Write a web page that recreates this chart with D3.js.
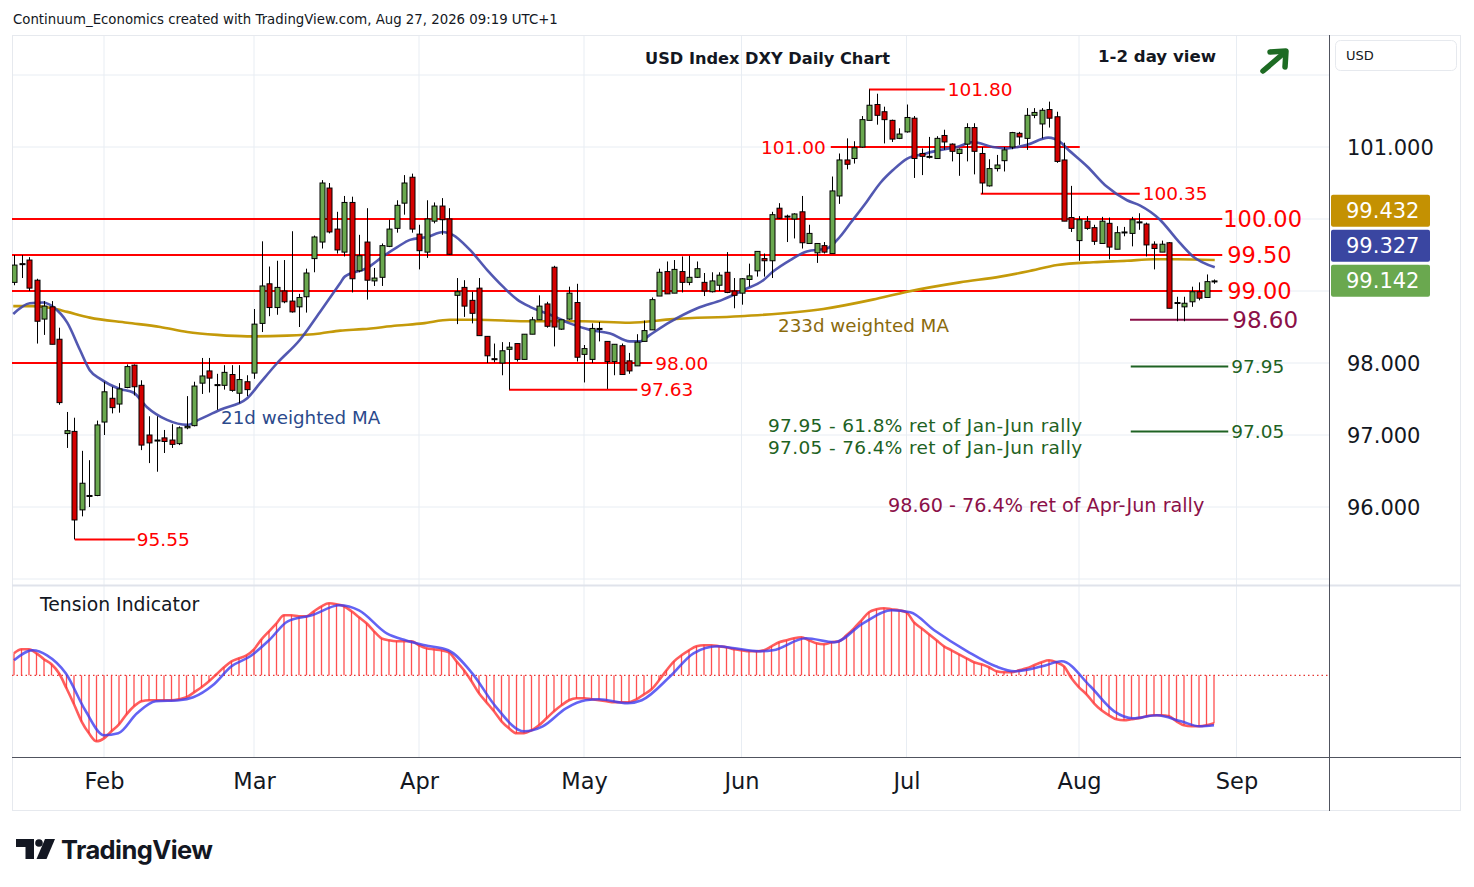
<!DOCTYPE html>
<html><head><meta charset="utf-8">
<script src="https://cdn.jsdelivr.net/npm/d3@7"></script>
<style>
body{margin:0;background:#fff;}
svg{display:block;font-family:"DejaVu Sans",sans-serif;}
</style>
</head><body>
<svg id="c" width="1474" height="887"></svg>
<script>
// ---------- DATA ----------
const opens=[99.12,99.38,99.43,99.15,98.61,98.78,98.33,97.02,97.05,95.96,
96.15,96.16,97.18,97.51,97.43,97.66,97.97,97.69,97.00,96.92,
96.96,96.93,96.88,97.10,97.13,97.72,97.89,97.69,97.69,97.84,
97.58,97.74,97.86,98.55,99.10,98.77,99.00,98.86,98.78,98.92,
99.45,99.68,100.43,99.86,99.54,100.23,99.28,99.68,99.14,99.19,
99.62,99.87,100.22,100.58,99.79,99.54,99.97,100.18,100.00,98.94,
99.05,98.87,99.04,98.37,98.06,98.00,98.19,98.27,98.05,98.40,
98.60,98.82,99.33,98.47,98.61,98.84,98.12,98.05,98.47,98.30,
98.02,98.24,98.03,97.96,98.30,98.46,98.93,99.27,98.97,99.27,
99.12,99.19,99.12,98.99,99.08,99.26,99.00,98.97,99.16,99.28,
99.45,99.42,100.15,100.04,100.00,100.10,99.66,99.53,99.63,99.52,
100.32,100.82,100.84,101.00,101.37,101.59,101.49,101.37,101.12,101.21,
101.40,100.91,100.86,100.84,101.16,101.04,100.91,101.04,101.27,100.91,
100.46,100.70,100.81,101.00,101.19,101.12,101.44,101.32,101.52,101.42,
100.82,100.02,99.70,99.97,99.88,99.66,99.94,99.58,99.81,99.80,
99.96,99.93,99.65,99.54,99.67,98.84,98.78,98.85,98.99,98.91,
99.13];
const highs=[99.50,99.50,99.47,99.17,98.86,98.86,98.49,97.32,97.24,96.78,
96.65,97.20,97.74,97.67,97.72,97.98,97.98,97.76,97.26,97.26,
97.07,97.15,97.12,97.54,97.74,98.07,98.07,97.85,97.97,97.97,
97.97,97.83,98.75,99.69,99.34,99.42,99.43,99.83,98.96,99.31,
99.77,100.54,100.50,100.10,100.32,100.31,99.78,100.15,99.32,99.66,
99.99,100.26,100.61,100.63,99.92,100.26,100.23,100.29,100.15,99.18,
99.15,98.99,99.18,98.37,98.27,98.29,98.29,98.27,98.40,98.64,
98.94,98.85,99.35,98.60,99.06,99.10,98.25,98.55,98.57,98.30,
98.26,98.27,98.14,98.40,98.59,98.91,99.31,99.41,99.43,99.48,
99.49,99.41,99.25,99.26,99.26,99.54,99.18,99.18,99.38,99.55,
99.52,100.10,100.22,100.06,100.08,100.32,99.92,99.66,99.68,100.59,
100.91,101.12,101.08,101.43,101.80,101.74,101.56,101.38,101.26,101.59,
101.43,100.98,101.14,101.15,101.24,101.05,100.98,101.33,101.33,101.00,
100.83,100.89,101.00,101.21,101.21,101.54,101.54,101.54,101.63,101.49,
101.06,100.46,100.04,100.04,99.92,100.03,100.02,99.90,99.89,100.03,
100.08,99.95,99.69,99.70,99.68,98.92,98.92,99.06,99.12,99.23,
99.16];
const lows=[99.08,99.18,99.00,98.27,98.39,98.26,97.42,96.82,95.55,95.87,
96.00,96.15,97.00,97.30,97.31,97.65,97.55,96.79,96.61,96.49,
96.75,96.82,96.86,97.08,97.12,97.57,97.59,97.35,97.63,97.60,
97.44,97.54,97.78,98.43,98.65,98.67,98.83,98.70,98.50,98.70,
99.26,99.59,99.80,99.52,99.48,98.98,99.26,98.88,99.07,99.07,
99.61,99.81,100.06,99.81,99.30,99.46,99.94,99.78,99.50,98.54,
98.64,98.55,98.38,98.00,98.01,97.83,97.63,98.02,98.05,98.40,
98.60,98.49,98.23,98.46,98.60,98.02,97.73,98.00,98.30,97.64,
97.83,97.84,97.85,97.96,98.30,98.46,98.93,98.96,98.97,98.98,
99.08,99.18,98.93,98.98,99.00,98.97,98.76,98.81,99.06,99.20,
99.20,99.18,100.00,99.68,99.73,99.59,99.66,99.39,99.52,99.52,
100.21,100.69,100.77,100.99,101.37,101.31,101.05,101.07,101.11,101.20,
100.57,100.61,100.84,100.84,100.96,100.80,100.60,100.80,100.62,100.35,
100.45,100.66,100.66,100.97,101.03,100.96,101.40,101.12,101.27,100.78,
99.97,99.82,99.42,99.85,99.64,99.66,99.44,99.58,99.76,99.62,
99.85,99.48,99.30,99.54,98.76,98.58,98.58,98.78,98.87,98.91,
99.10];
const closes=[99.36,99.37,99.04,98.58,98.79,98.26,97.45,97.06,95.82,96.33,
96.16,97.14,97.60,97.38,97.64,97.95,97.67,96.86,96.89,96.93,
96.91,96.87,97.10,97.12,97.68,97.82,97.79,97.70,97.87,97.62,
97.77,97.63,98.54,99.07,98.77,99.05,98.85,98.71,98.91,99.25,
99.75,100.50,99.82,99.57,100.23,99.17,99.49,99.15,99.18,99.63,
99.86,100.19,100.50,99.86,99.56,100.00,100.18,99.99,99.51,98.99,
98.79,98.69,98.38,98.10,98.05,98.17,98.22,98.05,98.40,98.60,
98.79,98.51,98.50,98.60,98.97,98.08,98.20,98.48,98.48,98.02,
98.26,97.84,97.89,98.29,98.45,98.88,99.26,98.96,99.30,99.12,
99.19,99.31,99.00,99.14,99.22,98.98,98.94,99.17,99.21,99.55,
99.42,100.06,100.01,100.03,100.07,99.67,99.80,99.66,99.54,100.39,
100.82,100.76,100.99,101.38,101.58,101.44,101.38,101.11,101.18,101.41,
100.84,100.87,100.87,101.12,101.07,100.94,100.97,101.27,100.94,100.50,
100.70,100.75,100.96,101.20,101.14,101.44,101.48,101.51,101.40,100.80,
99.97,99.87,99.99,99.87,99.69,99.97,99.61,99.81,99.82,99.99,
99.95,99.64,99.59,99.65,98.76,98.84,98.83,98.99,98.90,99.13,
99.14];

const monthLabels=["Feb","Mar","Apr","May","Jun","Jul","Aug","Sep"];
const monthIdx=[12,32,54,76,97,119,142,163];
const priceTicks=[96,97,98,101];
const gridPrices=[95,96,97,98,99,100,101,102];

const wma21Idx=[-0.1,2.1,3.9,5.2,7.1,8.8,10.1,11.5,14.1,15.9,17.7,20.4,23.1,24.8,27.5,31.1,32.8,35.1,38.1,40.8,43.5,44.1,47.1,49.2,51.1,52.8,55.1,57.2,58.5,60.8,63.1,65.2,67.1,68.8,71.5,74.1,76.8,79.5,82.1,83.5,84.8,87.5,91.1,94.5,97.2,99.9,101.2,103.5,105.7,108.4,110.1,111.5,113.7,115.5,117.2,119.1,121.2,123.5,125.7,127.9,130.5,132.4,135.1,137.9,139.5,140.4,143.1,145.7,148.4,150.1,152.8,155.1,157.2,160.1];
const wma21Val=[98.68,98.83,98.84,98.78,98.56,98.18,97.90,97.78,97.64,97.59,97.39,97.21,97.14,97.22,97.35,97.51,97.72,98.00,98.32,98.71,99.11,99.20,99.32,99.48,99.61,99.71,99.75,99.82,99.78,99.57,99.29,99.06,98.88,98.78,98.67,98.55,98.46,98.41,98.30,98.30,98.39,98.57,98.76,98.88,99.01,99.15,99.27,99.43,99.55,99.59,99.75,99.94,100.24,100.50,100.68,100.84,100.90,100.96,101.00,101.07,101.00,100.98,101.03,101.13,101.07,100.98,100.73,100.45,100.26,100.19,99.99,99.71,99.48,99.33];

const wma233Idx=[-0.1,2.5,5.2,7.1,10.1,15.1,19.5,23.1,27.1,31.1,36.4,40.8,43.5,46.5,51.1,54.5,58.1,61.7,68.8,75.9,82.1,87.9,96.8,107.9,114.5,119.1,126.1,131.5,135.1,139.1,143.9,148.4,151.9,155.1,160.1];
const wma233Val=[98.79,98.79,98.76,98.71,98.63,98.56,98.50,98.43,98.39,98.37,98.38,98.41,98.45,98.47,98.52,98.55,98.60,98.60,98.58,98.58,98.56,98.61,98.65,98.75,98.88,98.99,99.12,99.20,99.27,99.36,99.40,99.42,99.44,99.44,99.43];

const tension=[2.2,2.6,2.6,2.2,1.6,1.1,0.2,-1.3,-2.9,-4.6,
-5.8,-6.6,-6.3,-5.6,-4.9,-3.9,-3.1,-2.6,-2.5,-2.5,
-2.5,-2.5,-2.4,-2.2,-1.7,-1.2,-0.6,0.1,0.8,1.4,
1.7,2.0,2.6,3.6,4.4,5.2,6.0,6.0,5.9,5.9,
6.4,6.9,7.2,7.1,6.9,6.4,5.8,5.2,4.4,3.7,
3.5,3.4,3.4,3.4,3.0,2.7,2.6,2.5,2.3,1.4,
0.5,-0.6,-1.8,-2.7,-3.6,-4.6,-5.3,-5.8,-5.8,-5.5,
-5.0,-4.3,-3.6,-3.0,-2.5,-2.3,-2.3,-2.4,-2.5,-2.6,
-2.7,-2.7,-2.7,-2.4,-1.9,-1.4,-0.5,0.5,1.4,2.0,
2.5,2.9,3.0,3.0,2.9,2.8,2.6,2.5,2.4,2.4,
2.5,2.9,3.3,3.5,3.7,3.8,3.5,3.2,3.1,3.3,
3.4,4.0,4.7,5.5,6.3,6.6,6.7,6.6,6.5,6.3,
5.3,4.7,4.1,3.5,2.9,2.5,2.1,1.7,1.3,1.1,
0.8,0.4,0.3,0.3,0.5,0.7,1.0,1.3,1.5,1.3,
0.9,-0.3,-1.2,-1.9,-2.8,-3.5,-4.0,-4.4,-4.5,-4.4,
-4.3,-4.1,-4.0,-4.0,-4.1,-4.6,-5.0,-5.1,-5.1,-5.0,
-4.8];
const sigIdx=[0,2.5,4.4,6.9,9.5,12.0,13.9,16.4,18.9,22.0,23.9,26.5,29.0,31.5,34.0,36.5,39.7,43.4,46.0,49.7,52.2,54.8,57.9,61.1,64.2,68.0,70.5,73.6,76.2,78.0,81.8,83.7,87.5,90.6,93.8,96.1,99.3,101.2,105.6,109.4,113.2,117.0,119.5,122.7,127.1,130.9,133.4,137.1,139.7,143.5,146.7,149.2,152.4,155.6,158.1,160.0];
const sigVal=[1.5,2.5,2.0,0.2,-3.5,-6.0,-5.8,-3.8,-2.6,-2.5,-2.2,-1.0,0.9,1.9,3.5,5.4,6.0,7.0,6.5,4.2,3.5,3.0,2.5,0.2,-3.1,-5.6,-5.1,-3.3,-2.5,-2.4,-2.8,-2.5,-0.1,2.2,2.9,2.7,2.4,2.5,3.7,3.3,5.2,6.5,6.3,4.5,2.4,0.9,0.4,0.9,1.4,-1.1,-3.6,-4.3,-4.0,-4.6,-5.1,-5.0];

const lastValues=[99.432,99.327,99.142];

// ---------- DRAWING ----------
const svg=d3.select("#c");
const L=12,R=1329,PT=35,PB=585,IB=757,FB=811,FR=1461;
const x=d3.scaleLinear().domain([0,160]).range([14,1214]);
const y=d3.scaleLinear().domain([95,102]).range([579,75]);
const yT=d3.scaleLinear().domain([-8,8]).range([755.3,595.3]);

const defs=svg.append("defs");
defs.append("clipPath").attr("id","pp").append("rect").attr("x",L).attr("y",PT).attr("width",R-L).attr("height",PB-PT);
defs.append("clipPath").attr("id","ip").append("rect").attr("x",L).attr("y",PB).attr("width",R-L).attr("height",IB-PB);

svg.append("rect").attr("width",1474).attr("height",887).attr("fill","#fff");

// header
svg.append("text").attr("x",13).attr("y",24).attr("font-size",13.3).attr("fill","#131722")
  .text("Continuum_Economics created with TradingView.com, Aug 27, 2026 09:19 UTC+1");

// grid
const grid=svg.append("g");
grid.selectAll(".hg").data(gridPrices).join("line")
  .attr("x1",L).attr("x2",R).attr("y1",d=>y(d)).attr("y2",d=>y(d))
  .attr("stroke","#e8edf3").attr("stroke-width",1);
grid.selectAll(".vg").data(monthIdx).join("line")
  .attr("x1",d=>x(d)).attr("x2",d=>x(d)).attr("y1",PT).attr("y2",IB)
  .attr("stroke","#e8edf3").attr("stroke-width",1);

// frame
svg.append("rect").attr("x",L+0.5).attr("y",PT+0.5).attr("width",FR-L-1).attr("height",FB-PT-1)
  .attr("fill","none").attr("stroke","#e6e9ee");
svg.append("line").attr("x1",L).attr("x2",FR).attr("y1",PB+0.5).attr("y2",PB+0.5).attr("stroke","#e0e3eb").attr("stroke-width",2);
svg.append("line").attr("x1",L).attr("x2",FR).attr("y1",IB+0.5).attr("y2",IB+0.5).attr("stroke","#50535e");
svg.append("line").attr("x1",R+0.5).attr("x2",R+0.5).attr("y1",PT).attr("y2",FB).attr("stroke","#50535e");

// price pane
const pp=svg.append("g").attr("clip-path","url(#pp)");

const red="#ff0000";
function hline(v,i0,i1,col,w){
  pp.append("line").attr("x1",x(i0)).attr("x2",x(i1)).attr("y1",y(v)).attr("y2",y(v))
    .attr("stroke",col).attr("stroke-width",w);
}
function label(v,xx,txt,col,size,anchor){
  svg.append("text").attr("x",xx).attr("y",y(v)).attr("dy","0.36em")
    .attr("font-size",size).attr("fill",col).attr("text-anchor",anchor||"start").text(txt);
}
[100,99.5,99].forEach(v=>{hline(v,-0.4,161.1,red,2.2);});
hline(98,-0.4,85.1,red,2.2);
hline(101,108.9,142.1,red,2.2);
hline(101.8,114,124.1,red,2);
hline(100.35,128.9,150.1,red,2);
hline(97.63,66,83.1,red,2);
hline(95.55,8.1,16.1,red,2);
hline(98.6,148.8,161.9,"#8b1048",2);
hline(97.95,148.9,161.9,"#1e6223",2);
hline(97.05,148.9,161.9,"#1e6223",2);

// moving averages
const maLine=d3.line().x(d=>x(d[0])).y(d=>y(d[1])).curve(d3.curveMonotoneX);
pp.append("path").datum(wma233Idx.map((d,i)=>[d,wma233Val[i]])).attr("d",maLine)
  .attr("fill","none").attr("stroke","#c49a0a").attr("stroke-width",2.6);
pp.append("path").datum(wma21Idx.map((d,i)=>[d,wma21Val[i]])).attr("d",maLine)
  .attr("fill","none").attr("stroke","#3f46a8").attr("stroke-width",2.6).attr("stroke-opacity",0.9);

// candles
const idx=d3.range(opens.length);
const cg=pp.append("g");
cg.selectAll(".w").data(idx).join("line")
  .attr("x1",i=>Math.round(x(i))+0.5).attr("x2",i=>Math.round(x(i))+0.5)
  .attr("y1",i=>y(highs[i])).attr("y2",i=>y(lows[i]))
  .attr("stroke","#000").attr("stroke-width",1);
cg.selectAll(".b").data(idx).join("rect")
  .attr("x",i=>Math.round(x(i))-2)
  .attr("y",i=>y(Math.max(opens[i],closes[i])))
  .attr("width",5)
  .attr("height",i=>Math.max(1,Math.abs(y(opens[i])-y(closes[i]))))
  .attr("fill",i=>closes[i]>=opens[i]?"#6aa84f":"#d40000")
  .attr("stroke","#000").attr("stroke-width",1);

// level labels
label(100,x(161.1)+1,"100.00",red,22.5);
label(99.5,x(161.1)+5,"99.50",red,22.5);
label(99,x(161.1)+5,"99.00",red,22.5);
label(98,x(85.1)+3,"98.00",red,18.5);
label(101,x(108.9)-5,"101.00",red,18.5,"end");
label(101.8,x(124.1)+3,"101.80",red,18.5);
label(100.35,x(150.1)+3,"100.35",red,18.5);
label(97.63,x(83.1)+3,"97.63",red,18.5);
label(95.55,x(16.1)+2,"95.55",red,18.5);
label(98.6,x(161.9)+4,"98.60","#8b1048",23);
label(97.95,x(161.9)+3,"97.95","#1e6223",18.5);
label(97.05,x(161.9)+3,"97.05","#1e6223",18.5);

// text annotations
function txt(xx,yy,t,col,size,weight,ls){
  svg.append("text").attr("x",xx).attr("y",yy).attr("dy","0.36em").attr("font-size",size)
    .attr("fill",col).attr("font-weight",weight||"normal").attr("letter-spacing",ls||0).text(t);
}
txt(645,58,"USD Index DXY Daily Chart","#131722",16.2,"bold");
txt(1098,56,"1-2 day view","#131722",16.6,"bold");
txt(221,417,"21d weighted MA","#2b4a8c",18.3);
txt(778,325,"233d weighted MA","#8a6a0c",18.3);
txt(768,425,"97.95 - 61.8% ret of Jan-Jun rally","#1e6223",18.5,"normal",0.35);
txt(768,447,"97.05 - 76.4% ret of Jan-Jun rally","#1e6223",18.5,"normal",0.35);
txt(888,505,"98.60 - 76.4% ret of Apr-Jun rally","#8b1048",19.2);
txt(40,604,"Tension Indicator","#131722",18.8);

// arrow
const ar=svg.append("g").attr("stroke","#1d6b23").attr("stroke-width",5.5).attr("fill","none")
  .attr("stroke-linecap","round").attr("stroke-linejoin","round");
ar.append("line").attr("x1",1263).attr("y1",71).attr("x2",1284).attr("y2",53);
ar.append("polyline").attr("points","1270,52 1286,51 1285,67");

// indicator pane
const ip=svg.append("g").attr("clip-path","url(#ip)");
ip.append("line").attr("x1",L).attr("x2",R).attr("y1",yT(0)).attr("y2",yT(0))
  .attr("stroke","#e53935").attr("stroke-width",1.2).attr("stroke-dasharray","1.5,3");
ip.selectAll(".h").data(idx).join("line")
  .attr("x1",i=>x(i)).attr("x2",i=>x(i)).attr("y1",yT(0)).attr("y2",i=>yT(tension[i]))
  .attr("stroke","#ff3030").attr("stroke-width",1.3).attr("stroke-opacity",0.85);
ip.append("path").datum(idx).attr("d",d3.line().x(i=>x(i)).y(i=>yT(tension[i])).curve(d3.curveMonotoneX))
  .attr("fill","none").attr("stroke","#ff3333").attr("stroke-width",2.6).attr("stroke-opacity",0.8);
ip.append("path").datum(sigIdx.map((d,i)=>[d,sigVal[i]]))
  .attr("d",d3.line().x(d=>x(d[0])).y(d=>yT(d[1])).curve(d3.curveMonotoneX))
  .attr("fill","none").attr("stroke","#3c3cf0").attr("stroke-width",2.6).attr("stroke-opacity",0.8);

// time axis
const xa=svg.append("g").attr("transform",`translate(0,${781})`)
  .call(d3.axisBottom(x).tickValues(monthIdx).tickFormat((d,i)=>monthLabels[i]).tickSize(0).tickPadding(0));
xa.select(".domain").remove();
xa.selectAll("text").attr("y",0).attr("dy","0.36em").attr("font-size",22.5).attr("fill","#131722")
  .attr("font-family","'DejaVu Sans',sans-serif");

// price axis
const ya=svg.append("g").attr("transform",`translate(1347,0)`)
  .call(d3.axisRight(y).tickValues(priceTicks).tickFormat(d3.format(".3f")).tickSize(0).tickPadding(0));
ya.select(".domain").remove();
ya.selectAll("text").attr("x",0).attr("dy","0.36em").attr("font-size",21).attr("fill","#131722")
  .attr("font-family","'DejaVu Sans',sans-serif");

// last value boxes (stacked)
const boxCols=["#c49102","#3a46a1","#6aa84f"];
let cy=[0,0,0];
cy[2]=y(lastValues[2]);
cy[1]=Math.min(y(lastValues[1]),cy[2]-35);
cy[0]=Math.min(y(lastValues[0]),cy[1]-35);
lastValues.forEach((v,k)=>{
  svg.append("rect").attr("x",1331).attr("y",cy[k]-16).attr("width",99).attr("height",32)
    .attr("rx",2).attr("fill",boxCols[k]);
  svg.append("text").attr("x",1346).attr("y",cy[k]).attr("dy","0.36em").attr("font-size",21)
    .attr("fill","#fff").text(d3.format(".3f")(v));
});

// USD box
svg.append("rect").attr("x",1335.5).attr("y",40.5).attr("width",121).attr("height",30).attr("rx",5)
  .attr("fill","#fff").attr("stroke","#e6e9ee");
svg.append("text").attr("x",1346).attr("y",55).attr("dy","0.36em").attr("font-size",13).attr("fill","#131722").text("USD");

// TradingView logo
const lg=svg.append("g").attr("fill","#131722");
lg.append("path").attr("d","M16,839 H34 V859 H25.5 V847 H16 Z");
lg.append("circle").attr("cx",39).attr("cy",843).attr("r",3.8);
lg.append("path").attr("d","M45,839 H55 L46.5,859 H36.5 Z");
svg.append("text").attr("x",61).attr("y",850).attr("dy","0.36em").attr("font-size",25.5)
  .attr("font-weight","bold").attr("letter-spacing","-0.6").attr("fill","#131722")
  .attr("font-family","Inter,'DejaVu Sans',sans-serif").text("TradingView");
</script>
</body></html>
